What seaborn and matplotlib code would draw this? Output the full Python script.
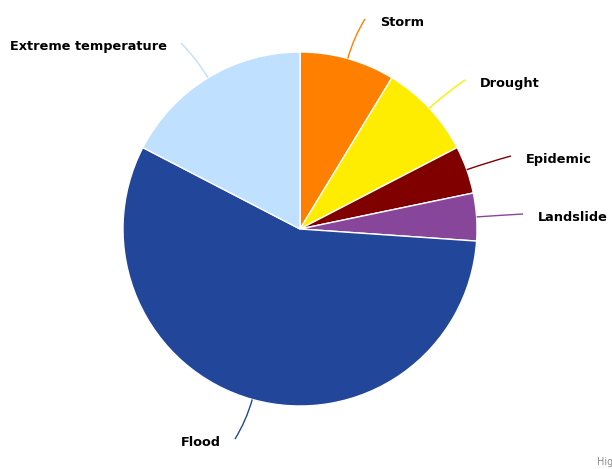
import numpy as np
import matplotlib
matplotlib.use('Agg')
import matplotlib.pyplot as plt
from matplotlib.path import Path
from matplotlib.patches import PathPatch
import seaborn as sns

# disaster counts, clockwise from 12 o'clock
categories = ['Storm', 'Drought', 'Epidemic', 'Landslide', 'Flood', 'Extreme temperature']
counts = [2, 2, 1, 1, 13, 4]
colors = ['#FF8000', '#FFED00', '#800000', '#87469A', '#22479A', '#C0E0FF']

# label layout (connector end point in pixels from top-left, side of the text)
label_ends = [(365, 19), (465, 80), (511, 156), (523, 214), (235, 439), (181, 43)]
label_side = ['right', 'right', 'right', 'right', 'left', 'left']

sns.set_theme(style='white')
plt.rcParams['font.family'] = ['DejaVu Sans']

W, H = 612, 469
cx, cy, R = 300, H - 229, 177

fig = plt.figure(figsize=(W / 100, H / 100), dpi=100)
ax = fig.add_axes([0, 0, 1, 1])
wedges, _ = ax.pie(counts, colors=colors, startangle=90, counterclock=False,
                   center=(cx, cy), radius=R, frame=True,
                   wedgeprops=dict(edgecolor='white', linewidth=1))
ax.set_xlim(0, W)
ax.set_ylim(0, H)
ax.axis('off')

for w, name, col, (ex, ey), side in zip(wedges, categories, colors, label_ends, label_side):
    mid = np.deg2rad((w.theta1 + w.theta2) / 2)
    dx, dy = np.cos(mid), np.sin(mid)
    sx, sy = cx + R * dx, cy + R * dy
    qx, qy = cx + (R + 22) * dx, cy + (R + 22) * dy
    ey = H - ey
    path = Path([(sx, sy), (qx, qy), (ex, ey)], [Path.MOVETO, Path.CURVE3, Path.CURVE3])
    ax.add_patch(PathPatch(path, facecolor='none', edgecolor=col, linewidth=1))
    if side == 'right':
        ax.text(ex + 15, ey - 3, name, ha='left', va='center', fontsize=9.3,
                fontweight='bold', color='#000000')
    else:
        ax.text(ex - 14, ey - 3, name, ha='right', va='center', fontsize=9.3,
                fontweight='bold', color='#000000')

fig.text(597 / W, 1 - 462 / H, 'Highcharts.com', ha='left', va='center',
         fontsize=7, color='#909090')

fig.savefig('out.png', dpi=100)
